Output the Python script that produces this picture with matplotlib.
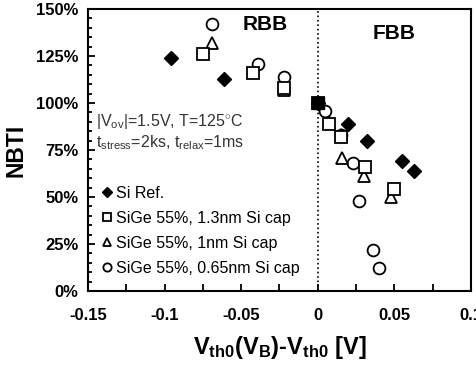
import matplotlib
matplotlib.use('Agg')
import matplotlib.pyplot as plt
from matplotlib.ticker import MultipleLocator, FuncFormatter

plt.rcParams['font.family'] = ['Liberation Sans', 'DejaVu Sans']
plt.rcParams['mathtext.fontset'] = 'custom'
plt.rcParams['mathtext.rm'] = 'Liberation Sans'
plt.rcParams['mathtext.bf'] = 'Liberation Sans:bold'

# data (x in V, y in %)
si_x = [-0.096, -0.061, 0.0, 0.020, 0.032, 0.055, 0.063]
si_y = [124, 113, 100, 89, 80, 69, 64]

sq_x = [-0.075, -0.042, -0.022, 0.0, 0.007, 0.015, 0.031, 0.050]
sq_y = [126, 116, 108, 100, 89, 82, 66, 54]

tri_x = [-0.069, -0.022, 0.0, 0.007, 0.015, 0.016, 0.030, 0.048]
tri_y = [132, 107, 100, 90, 83, 71, 61, 50]

circ_x = [-0.069, -0.039, -0.022, 0.0, 0.005, 0.015, 0.023, 0.027, 0.036, 0.040]
circ_y = [142, 121, 114, 100, 96, 83, 68, 48, 22, 12]

ref_x = [0.0]
ref_y = [100]

labels = ['Si Ref.', 'SiGe 55%, 1.3nm Si cap', 'SiGe 55%, 1nm Si cap', 'SiGe 55%, 0.65nm Si cap']

fig = plt.figure(figsize=(4.76, 3.66), dpi=100)
ax = fig.add_axes([88/476, 1 - 291/366, (471-88)/476, (291-9)/366])

ax.axvline(0, color='black', linestyle=':', linewidth=1.2, zorder=1)

ax.plot(circ_x, circ_y, 'o', ms=8.5, mfc='white', mec='black', mew=1.3, label=labels[3], zorder=3)
ax.plot(tri_x, tri_y, '^', ms=9, mfc='white', mec='black', mew=1.3, label=labels[2], zorder=4)
ax.plot(sq_x, sq_y, 's', ms=8.5, mfc='white', mec='black', mew=1.3, label=labels[1], zorder=5)
ax.plot(si_x, si_y, 'D', ms=7.5, color='black', label=labels[0], zorder=6)
ax.plot(ref_x, ref_y, 's', ms=9, color='black', zorder=7)

ax.set_xlim(-0.15, 0.1)
ax.set_ylim(0, 150)
ax.xaxis.set_major_locator(MultipleLocator(0.05))
ax.xaxis.set_minor_locator(MultipleLocator(0.025))
ax.yaxis.set_major_locator(MultipleLocator(25))
ax.yaxis.set_minor_locator(MultipleLocator(5))
ax.xaxis.set_major_formatter(FuncFormatter(lambda v, p: '0' if abs(v) < 1e-9 else ('%g' % round(v, 3))))
ax.yaxis.set_major_formatter(FuncFormatter(lambda v, p: '%d%%' % v))
ax.tick_params(axis='both', which='both', direction='in', width=1.3, labelsize=12)
ax.tick_params(axis='both', which='major', length=5)
ax.tick_params(axis='both', which='minor', length=3)
ax.tick_params(axis='x', which='minor', length=5)
ax.tick_params(axis='x', pad=12)
ax.tick_params(axis='y', pad=7)
for lab in ax.get_xticklabels() + ax.get_yticklabels():
    lab.set_fontweight('bold')
for s in ax.spines.values():
    s.set_linewidth(1.5)

ax.text(-0.034, 142, 'RBB', fontsize=15, fontweight='bold', ha='center', va='center')
ax.text(0.05, 137, 'FBB', fontsize=15, fontweight='bold', ha='center', va='center')
ax.text(-0.145, 90, r'|V$_{\mathrm{ov}}$|=1.5V, T=125$^{\circ}$C', fontsize=11.5, ha='left', va='center', color='#333333')
ax.text(-0.145, 79, r't$_{\mathrm{stress}}$=2ks, t$_{\mathrm{relax}}$=1ms', fontsize=11.5, ha='left', va='center', color='#333333')

h, l = ax.get_legend_handles_labels()
order = [3, 2, 1, 0]
leg = ax.legend([h[i] for i in order], [l[i] for i in order], loc='lower left',
                frameon=False, fontsize=11.5, handlelength=0.7, handletextpad=0.2,
                markerscale=0.7, labelspacing=0.62, borderaxespad=0.2,
                bbox_to_anchor=(0.01, 0.02))

ax.set_ylabel('NBTI', fontsize=16.5, fontweight='bold', labelpad=6)
ax.set_xlabel(r'$\mathbf{V_{th0}(V_B)}$-$\mathbf{V_{th0}}$ [V]', fontsize=17, fontweight='bold', labelpad=8)

fig.savefig('out.png', dpi=100)
